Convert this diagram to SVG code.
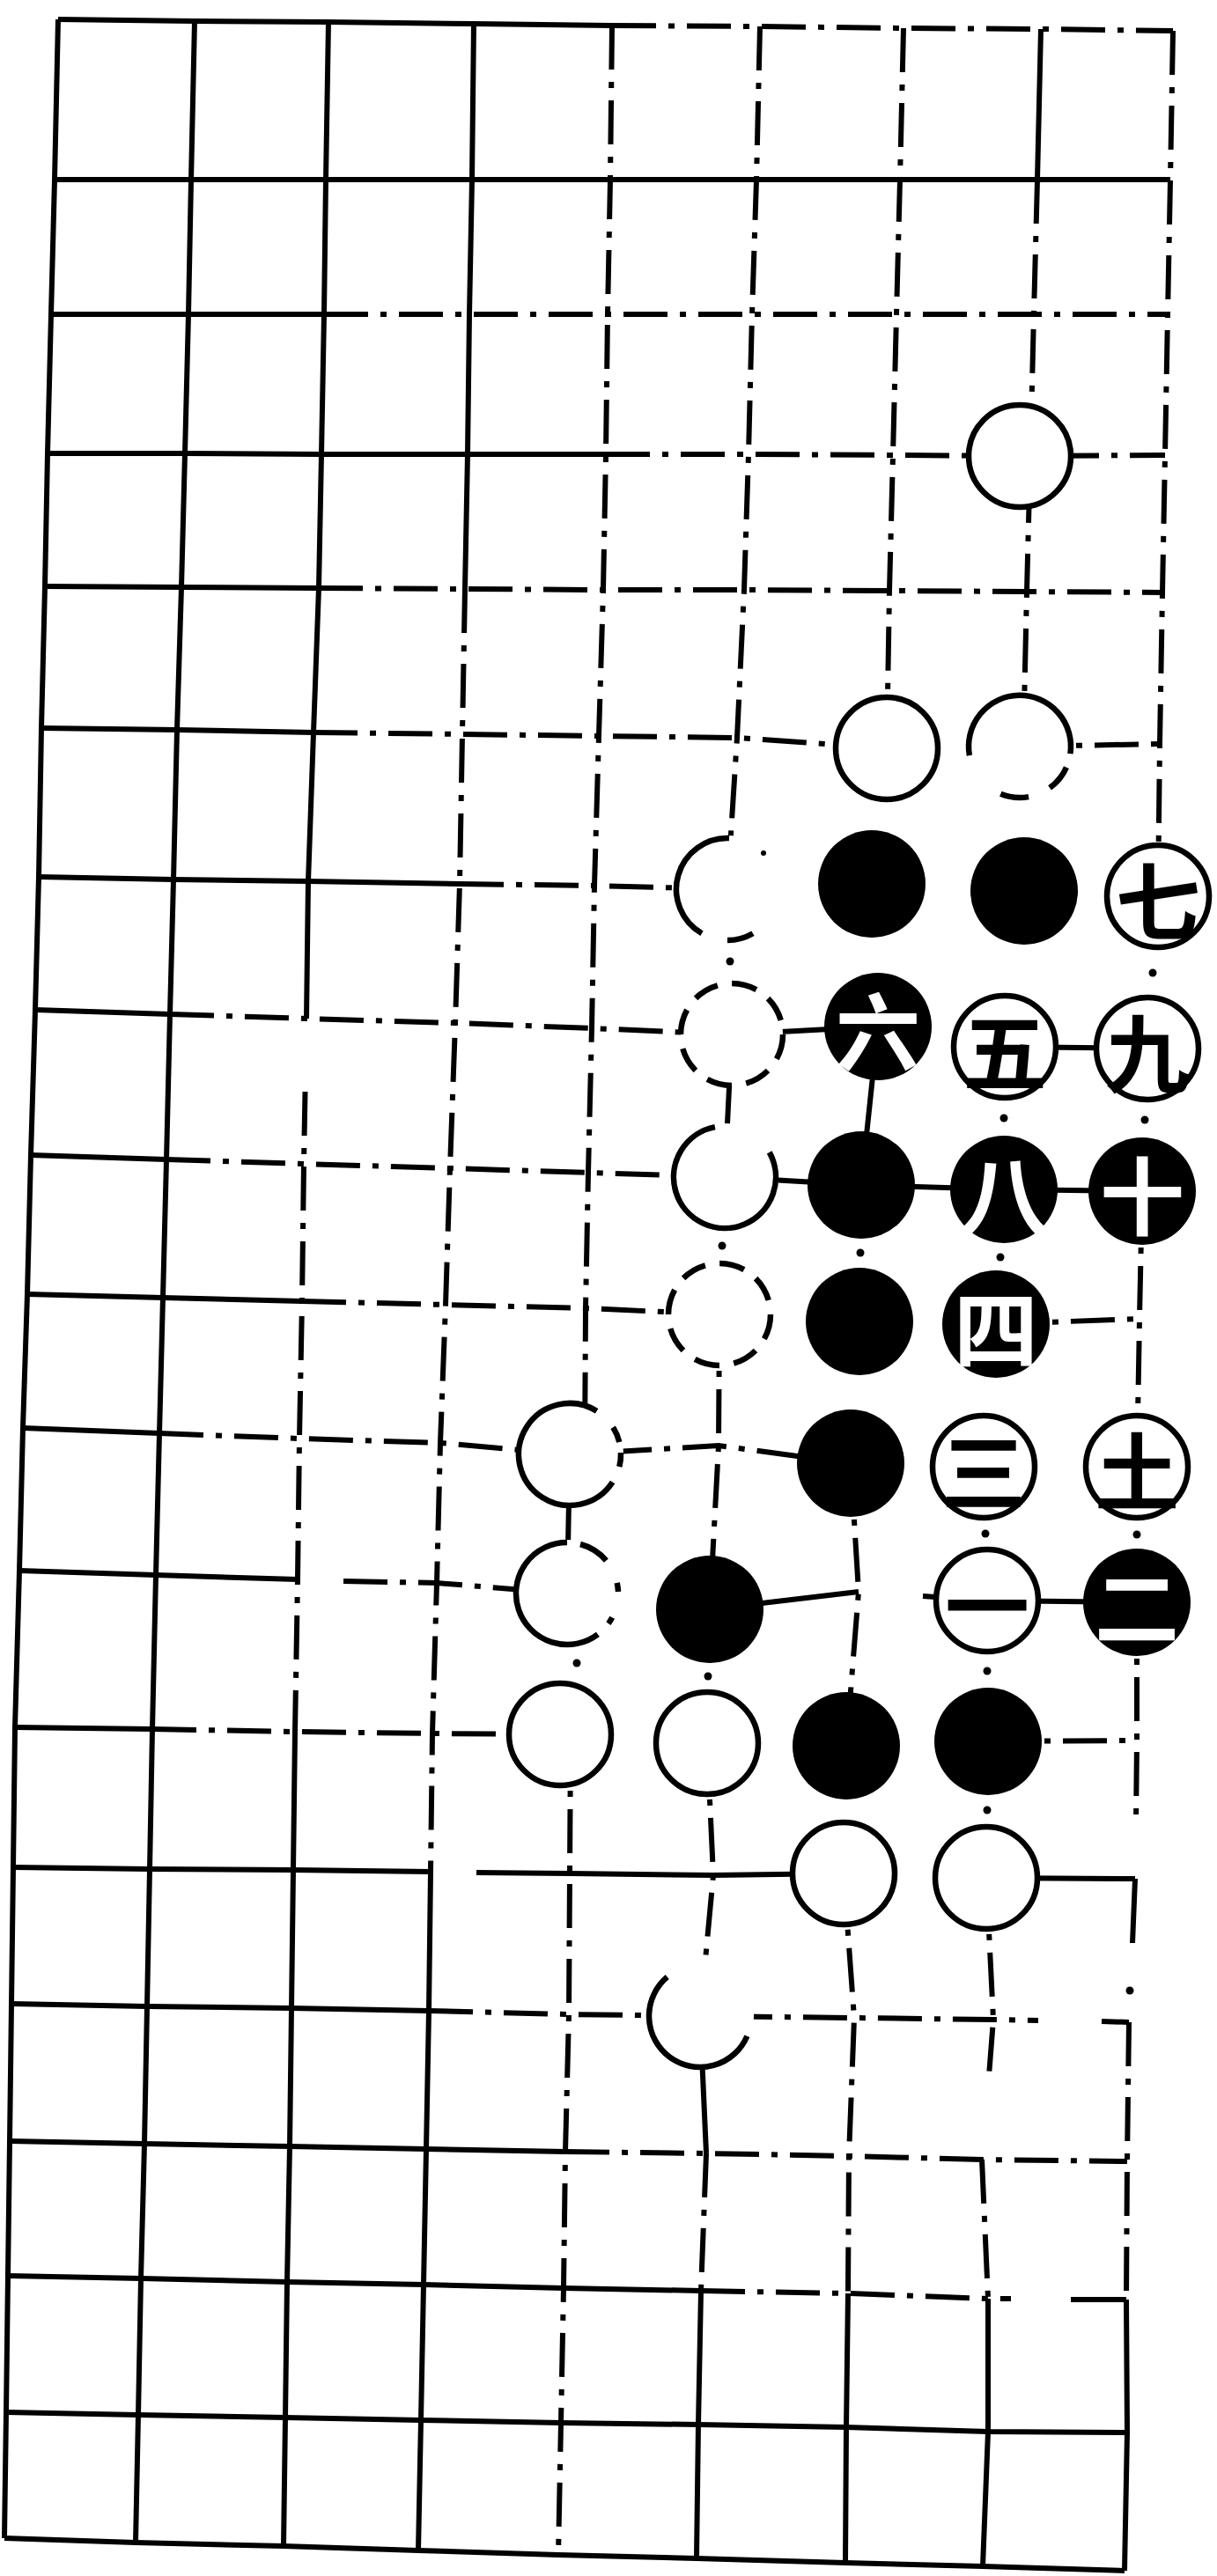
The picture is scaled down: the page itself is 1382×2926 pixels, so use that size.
<svg xmlns="http://www.w3.org/2000/svg" width="1382" height="2926" viewBox="0 0 1382 2926">
<defs>
<style>
.s{fill:none;stroke:#000;stroke-width:6;stroke-linejoin:round}
.d{fill:none;stroke:#000;stroke-width:6;stroke-dasharray:50 14 7 14}
.dot{fill:#000}
.w{fill:#fff;stroke:#000;stroke-width:6.5}
.wd{fill:#fff;stroke:#000;stroke-width:6.5;stroke-dasharray:29 16.5}
.mask{fill:#fff}
.arc{fill:none;stroke:#000;stroke-width:6.5}
.b{fill:#000}
.t{font-family:"Noto Sans CJK SC","Noto Sans CJK JP",sans-serif;font-size:96px;font-weight:700;text-anchor:middle;dominant-baseline:central}
.tw{fill:#000}
.tb{fill:#fff}
</style>
</defs>
<rect width="1382" height="2926" fill="#fff"/>
<g id="connectors">
<polyline class="s" points="66,22 221,24 373,25 538,27 695,29"/>
<polyline class="d" points="695,29 863,30 1026,32 1182,33 1332,35"/>
<polyline class="s" points="62,204 217,204 370,204 536,204 693,204 859,204 1022,204 1178,204 1329,204"/>
<polyline class="s" points="58,357 214,357 368,357"/>
<polyline class="d" points="368,357 533,357 690,357 854,357 1018,357 1174,357 1326,357"/>
<polyline class="s" points="54,515 210,515 365,516 531,516 688,516"/>
<polyline class="d" points="688,516 850,516 1014,517 1158,518 1323,517"/>
<polyline class="s" points="51,666 206,667 362,668"/>
<polyline class="d" points="362,668 528,669 685,670 845,670 1010,671 1166,672 1320,673"/>
<polyline class="s" points="47,827 201,829 356,832"/>
<polyline class="d" points="356,832 525,834 680,836 837,838 1007,850"/>
<polyline class="d" points="1158,848 1317,845"/>
<polyline class="s" points="44,996 197,999 350,1001 522,1004"/>
<polyline class="d" points="522,1004 675,1006 826,1010"/>
<polyline class="s" points="40,1147 193,1152"/>
<polyline class="d" points="193,1152 348,1157 517,1162 672,1168 831,1175"/>
<polyline class="s" points="831,1175 997,1166"/>
<polyline class="s" points="1141,1189 1303,1191"/>
<polyline class="s" points="35,1312 189,1317"/>
<polyline class="d" points="189,1317 345,1322 511,1327 668,1332 823,1337"/>
<polyline class="s" points="823,1337 978,1346 1140,1351 1297,1353"/>
<polyline class="s" points="31,1470 185,1474 343,1478"/>
<polyline class="d" points="343,1478 506,1482 665,1486 817,1493"/>
<polyline class="d" points="1131,1504 1294,1498"/>
<polyline class="s" points="26,1622 181,1628"/>
<polyline class="d" points="181,1628 340,1634 500,1639 647,1652 816,1642 966,1662"/>
<polyline class="s" points="22,1784 177,1789 338,1794"/>
<polyline class="d" points="390,1796 496,1798 644,1810"/>
<polyline class="s" points="806,1828 975,1808"/>
<polyline class="s" points="1048,1813 1121,1818 1291,1820"/>
<polyline class="s" points="17,1962 173,1964"/>
<polyline class="d" points="173,1964 335,1967 491,1969 636,1970"/>
<polyline class="d" points="1122,1978 1291,1977"/>
<polyline class="s" points="15,2121 170,2123 333,2124 489,2126"/>
<polyline class="s" points="541,2127 647,2128 810,2130 958,2128"/>
<polyline class="s" points="1120,2133 1289,2134"/>
<polyline class="s" points="13,2276 167,2279 331,2281 487,2284"/>
<polyline class="d" points="487,2284 646,2288 795,2290 970,2292 1128,2294 1179,2295"/>
<polyline class="s" points="1251,2296 1282,2297"/>
<polyline class="s" points="11,2432 164,2435 329,2438 484,2441 642,2444"/>
<polyline class="d" points="642,2444 802,2446 964,2449 1115,2453 1280,2455"/>
<polyline class="s" points="9,2585 160,2588 326,2592 481,2595 640,2599 796,2602"/>
<polyline class="d" points="796,2602 963,2605 1122,2611 1148,2611"/>
<polyline class="s" points="1216,2612 1279,2612"/>
<polyline class="s" points="7,2740 157,2743 324,2746 478,2749 637,2752 793,2754 961,2757 1122,2762 1280,2763"/>
<polyline class="s" points="5,2883 154,2888 322,2892 475,2897 634,2902 791,2906 960,2911 1116,2915 1277,2920"/>
<polyline class="s" points="66,22 62,204 58,357 54,515 51,666 47,827 44,996 40,1147 35,1312 31,1470 26,1622 22,1784 17,1962 15,2121 13,2276 11,2432 9,2585 7,2740 5,2883"/>
<polyline class="s" points="221,24 217,204 214,357 210,515 206,667 201,829 197,999 193,1152 189,1317 185,1474 181,1628 177,1789 173,1964 170,2123 167,2279 164,2435 160,2588 157,2743 154,2888"/>
<polyline class="s" points="373,25 370,204 368,357 365,516 362,668 356,832 350,1001 348,1157"/>
<polyline class="d" points="346.5,1240 345,1322 343,1478 340,1634 338,1794 335,1967"/>
<polyline class="s" points="335,1967 333,2124 331,2281 329,2438 326,2592 324,2746 322,2892"/>
<polyline class="s" points="538,27 536,204 533,357 531,516 528,669"/>
<polyline class="d" points="528,669 525,834 522,1004 517,1162 511,1327 506,1482 500,1639 496,1798 491,1969 489,2126"/>
<polyline class="s" points="489,2126 487,2284 484,2441 481,2595 478,2749 475,2897"/>
<polyline class="d" points="695,29 693,204 690,357 688,516 685,670 680,836 675,1006 672,1168 668,1332 665,1486 664,1652"/>
<polyline class="s" points="647,1652 644,1810"/>
<polyline class="d" points="648,1970 647,2128 646,2288 642,2444 640,2599 637,2752 634,2902"/>
<polyline class="d" points="863,30 859,204 854,357 850,516 845,670 837,838 826,1010"/>
<polyline class="s" points="831,1175 823,1337"/>
<polyline class="d" points="817,1493 816,1642 806,1828"/>
<polyline class="d" points="803,1980 810,2130 795,2290"/>
<polyline class="s" points="795,2290 802,2446"/>
<polyline class="d" points="802,2446 796,2602"/>
<polyline class="s" points="796,2602 793,2754 791,2906"/>
<polyline class="d" points="1026,32 1022,204 1018,357 1014,517 1010,671 1007,850"/>
<polyline class="s" points="997,1166 978,1346"/>
<polyline class="d" points="966,1662 975,1808 961,1983"/>
<polyline class="d" points="958,2128 970,2292 964,2449 963,2605"/>
<polyline class="s" points="963,2605 961,2757 960,2911"/>
<polyline class="s" points="1182,33 1178,204"/>
<polyline class="d" points="1178,204 1174,357 1170,517 1166,672 1162,848"/>
<polyline class="d" points="1120,2133 1128,2294 1123,2358"/>
<polyline class="d" points="1115,2453 1122,2611"/>
<polyline class="s" points="1122,2611 1122,2762 1116,2915"/>
<polyline class="d" points="1332,35 1329,204 1326,357 1323,517 1320,673 1317,845 1315,1018"/>
<polyline class="d" points="1297,1353 1294,1498 1291,1666"/>
<polyline class="d" points="1291,1820 1291,1977 1290,2071"/>
<polyline class="s" points="1289,2134 1286,2207"/>
<polyline class="d" points="1282,2297 1280,2455 1279,2612"/>
<polyline class="s" points="1279,2612 1280,2763 1277,2920"/>
<circle class="dot" cx="655" cy="1889" r="4.5"/>
<circle class="dot" cx="829" cy="1092" r="4.5"/>
<circle class="dot" cx="820" cy="1415" r="4.5"/>
<circle class="dot" cx="804" cy="1904" r="4.5"/>
<circle class="dot" cx="977" cy="1423" r="4.5"/>
<circle class="dot" cx="1140" cy="1270" r="4.5"/>
<circle class="dot" cx="1136" cy="1428" r="4.5"/>
<circle class="dot" cx="1119" cy="1742" r="4.5"/>
<circle class="dot" cx="1121" cy="1898" r="4.5"/>
<circle class="dot" cx="1121" cy="2056" r="4.5"/>
<circle class="dot" cx="1309" cy="1105" r="4.5"/>
<circle class="dot" cx="1300" cy="1272" r="4.5"/>
<circle class="dot" cx="1291" cy="1743" r="4.5"/>
<circle class="dot" cx="1283" cy="2261" r="4.5"/>
</g>
<g id="w-r3c7"><circle class="w" cx="1158" cy="518" r="58"/></g>
<g id="w-r5c6"><circle class="w" cx="1007" cy="850" r="58"/></g>
<g id="w-r5c7"><circle class="mask" cx="1158" cy="848" r="61"/>
<path class="arc" d="M1100.9,858.1 A58,58 0 1 1 1215.4,856.1 M1211,871.6 A58,58 0 0 1 1192.1,894.9 M1168.1,905.1 A58,58 0 0 1 1136.3,901.8"/></g>
<g id="w-r6c5"><circle class="mask" cx="826" cy="1010" r="61"/>
<path class="arc" d="M797,1060.2 A58,58 0 0 1 828,952 M855,1060.2 A58,58 0 0 1 826,1068"/><circle class="dot" cx="867" cy="969" r="3"/></g>
<g id="w-r7c5"><circle class="wd" cx="831" cy="1175" r="58"/></g>
<g id="w-r8c5"><circle class="mask" cx="823" cy="1337" r="61"/>
<path class="arc" d="M873.7,1308.9 A58,58 0 1 1 811.9,1280.1"/></g>
<g id="w-r9c5"><circle class="wd" cx="817" cy="1493" r="58"/></g>
<g id="w-r10c4"><circle class="mask" cx="647" cy="1652" r="61"/>
<path class="arc" d="M695.6,1683.6 A58,58 0 1 1 677.7,1602.8 M696.2,1621.3 A58,58 0 0 1 703.3,1638 M705,1650 A58,58 0 0 1 703.3,1666"/></g>
<g id="w-r11c4"><circle class="mask" cx="644" cy="1810" r="61"/>
<path class="arc" d="M678.9,1856.3 A58,58 0 1 1 644,1752 M659,1754 A58,58 0 0 1 688.4,1772.7 M700.7,1797.9 A58,58 0 0 1 702,1808 M695.2,1837.2 A58,58 0 0 1 690.9,1844.1"/></g>
<g id="w-r12c4"><circle class="w" cx="636" cy="1970" r="58"/></g>
<g id="w-r12c5"><circle class="w" cx="803" cy="1980" r="58"/></g>
<g id="w-r13c6"><circle class="w" cx="958" cy="2128" r="58"/></g>
<g id="w-r13c7"><circle class="w" cx="1120" cy="2133" r="58"/></g>
<g id="w-r14c5"><circle class="mask" cx="795" cy="2290" r="61"/>
<path class="arc" d="M848.4,2312.7 A58,58 0 1 1 757.7,2245.6"/></g>
<g id="b-r6c6"><circle class="b" cx="990" cy="1004" r="61"/></g>
<g id="b-r6c7"><circle class="b" cx="1163" cy="1012" r="61"/></g>
<g id="b-r8c6"><circle class="b" cx="978" cy="1346" r="61"/></g>
<g id="b-r9c6"><circle class="b" cx="976" cy="1501" r="61"/></g>
<g id="b-r10c6"><circle class="b" cx="966" cy="1662" r="61"/></g>
<g id="b-r11c5"><circle class="b" cx="806" cy="1828" r="61"/></g>
<g id="b-r12c6"><circle class="b" cx="961" cy="1983" r="61"/></g>
<g id="b-r12c7"><circle class="b" cx="1122" cy="1978" r="61"/></g>
<g id="move-1"><circle class="w" cx="1121" cy="1818" r="58"/><text class="t tw" x="1121" y="1818">一</text></g>
<g id="move-2"><circle class="b" cx="1291" cy="1820" r="61"/><text class="t tb" x="1291" y="1820">二</text></g>
<g id="move-3"><circle class="w" cx="1117" cy="1666" r="58"/><text class="t tw" x="1117" y="1666">三</text></g>
<g id="move-4"><circle class="b" cx="1131" cy="1504" r="61"/><text class="t tb" x="1131" y="1504">四</text></g>
<g id="move-5"><circle class="w" cx="1141" cy="1189" r="58"/><text class="t tw" x="1141" y="1189">五</text></g>
<g id="move-6"><circle class="b" cx="997" cy="1166" r="61"/><text class="t tb" x="997" y="1166">六</text></g>
<g id="move-7"><circle class="w" cx="1315" cy="1018" r="58"/><text class="t tw" x="1315" y="1018">七</text></g>
<g id="move-8"><circle class="b" cx="1140" cy="1351" r="61"/><text class="t tb" x="1140" y="1351">八</text></g>
<g id="move-9"><circle class="w" cx="1303" cy="1191" r="58"/><text class="t tw" x="1303" y="1191">九</text></g>
<g id="move-10"><circle class="b" cx="1297" cy="1353" r="61"/><text class="t tb" x="1297" y="1353">十</text></g>
<g id="move-11"><circle class="w" cx="1291" cy="1666" r="58"/><text class="t tw" x="1291" y="1666">土</text></g>
</svg>
